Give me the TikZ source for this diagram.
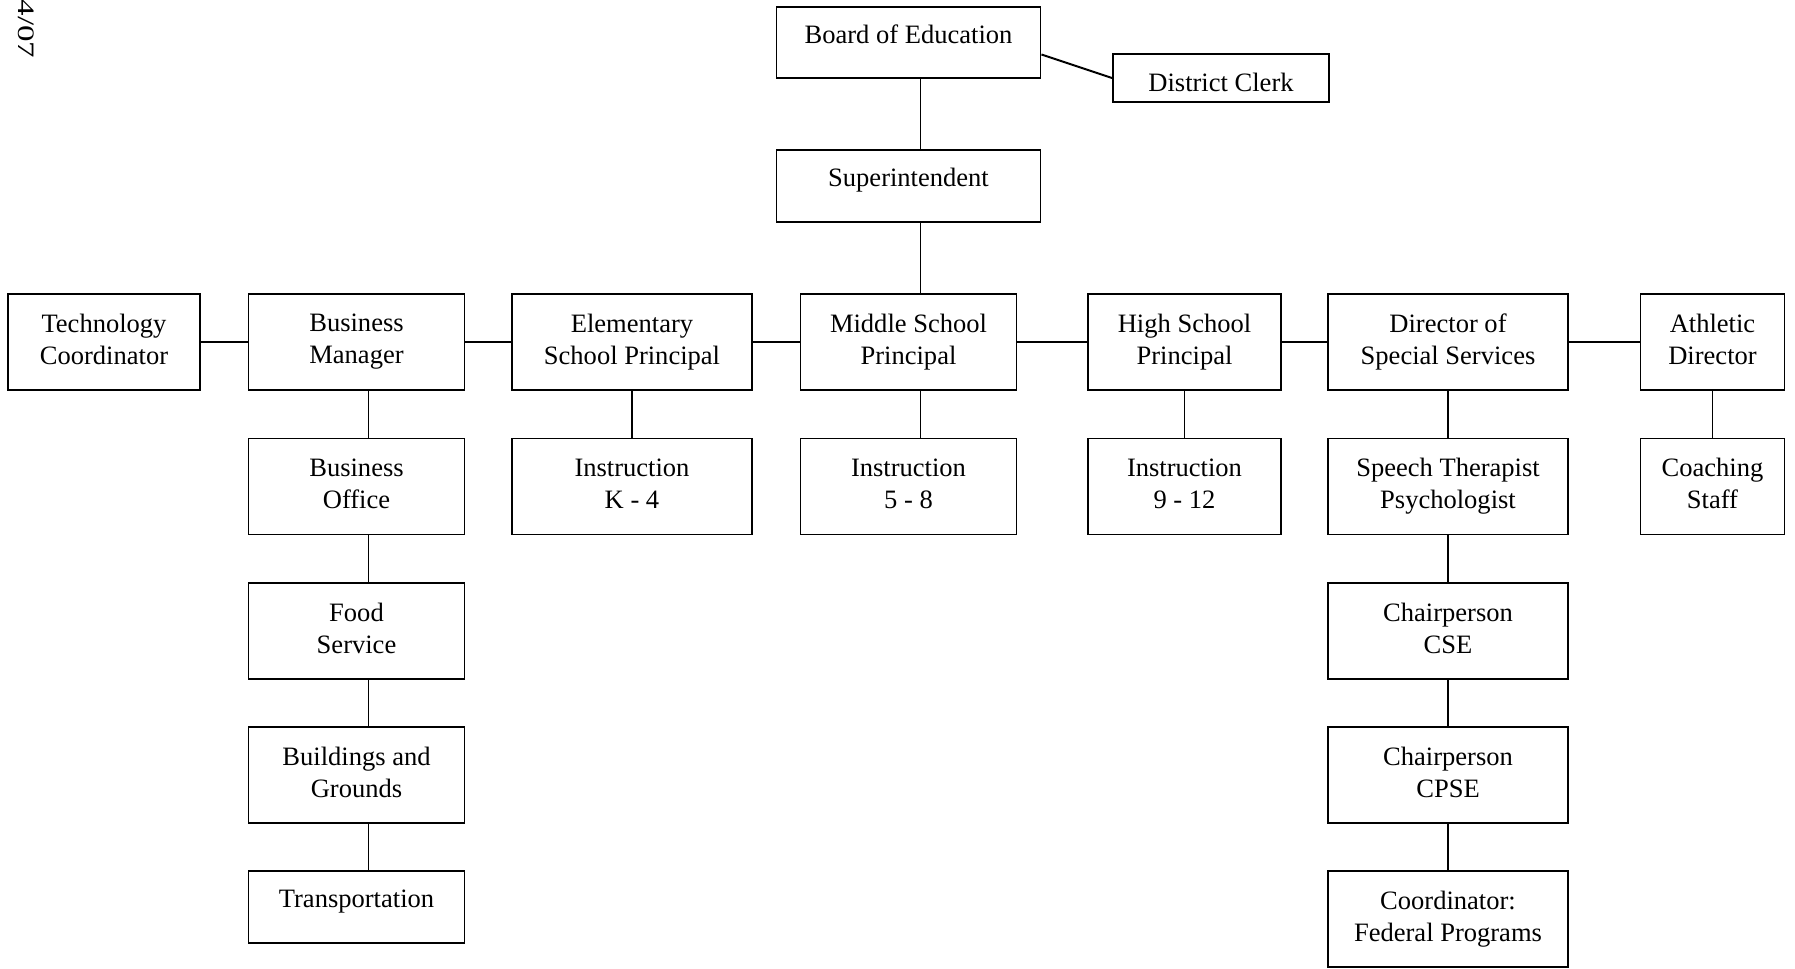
\documentclass[tikz,border=0pt]{standalone}
\usepackage{fontspec}
\setmainfont{Liberation Serif}

\begin{document}
\begin{tikzpicture}[
    box/.style={draw, line width=1.1pt, inner sep=0pt, align=center, minimum height=1.92cm,
      execute at end node=\vphantom{g}},
    upper/.style={text height=0.371cm, text depth=0.35cm},
    lower/.style={text height=0.636cm, text depth=0.106cm},
    link/.style={line width=1.1pt},
    font=\fontsize{15.1}{18.2}\selectfont]
    \useasboundingbox (0, 0) rectangle (35.9, -19.36);
    \node[rotate=-90, xscale=1.4, font=\fontsize{13.4}{16}\selectfont] (date) at (0.52, -0.58) {4/07};

    \node[box, upper, minimum width=5.28cm, minimum height=1.42cm] (board) at (18.17, -0.85) {Board of Education};
    \node[box, lower, minimum width=4.32cm, minimum height=0.96cm] (clerk) at (24.42, -1.56) {District Clerk};
    \node[box, upper, minimum width=5.28cm, minimum height=1.44cm] (super) at (18.17, -3.72) {Superintendent};

    \node[box, minimum width=3.84cm] (tech) at (2.08, -6.84) {Technology\\Coordinator};
    \node[box, minimum width=4.32cm] (busmgr) at (7.13, -6.84) {Business\\Manager};
    \node[box, minimum width=4.80cm] (elem) at (12.64, -6.84) {Elementary\\School Principal};
    \node[box, minimum width=4.32cm] (middle) at (18.17, -6.84) {Middle School\\Principal};
    \node[box, minimum width=3.87cm] (high) at (23.69, -6.84) {High School\\Principal};
    \node[box, minimum width=4.80cm] (director) at (28.96, -6.84) {Director of\\Special Services};
    \node[box, minimum width=2.88cm] (athletic) at (34.25, -6.84) {Athletic\\Director};

    \node[box, minimum width=4.32cm] (busoffice) at (7.13, -9.73) {Business\\Office};
    \node[box, minimum width=4.80cm] (instrk) at (12.64, -9.73) {Instruction\\K - 4};
    \node[box, minimum width=4.32cm] (instrmid) at (18.17, -9.73) {Instruction\\5 - 8};
    \node[box, minimum width=3.87cm] (instrhigh) at (23.69, -9.73) {Instruction\\9 - 12};
    \node[box, minimum width=4.80cm] (speech) at (28.96, -9.73) {Speech Therapist\\Psychologist};
    \node[box, minimum width=2.88cm] (coaching) at (34.25, -9.73) {Coaching\\Staff};

    \node[box, minimum width=4.32cm] (food) at (7.13, -12.62) {Food\\Service};
    \node[box, minimum width=4.80cm] (cse) at (28.96, -12.62) {Chairperson\\CSE};

    \node[box, minimum width=4.32cm] (grounds) at (7.13, -15.50) {Buildings and\\Grounds};
    \node[box, minimum width=4.80cm] (cpse) at (28.96, -15.50) {Chairperson\\CPSE};

    \node[box, upper, minimum width=4.32cm, minimum height=1.44cm] (transport) at (7.13, -18.14) {Transportation};
    \node[box, minimum width=4.80cm] (federal) at (28.96, -18.38) {Coordinator:\\Federal Programs};

    \draw[link] ([yshift=-0.24cm]board.east) -- (clerk.west);
    \draw[link] ([xshift=0.24cm]board.south) -- ([xshift=0.24cm]super.north);
    \draw[link] ([xshift=0.24cm]super.south) -- ([xshift=0.24cm]middle.north);

    \draw[link] (tech.east) -- (busmgr.west);
    \draw[link] (busmgr.east) -- (elem.west);
    \draw[link] (elem.east) -- (middle.west);
    \draw[link] (middle.east) -- (high.west);
    \draw[link] (high.east) -- (director.west);
    \draw[link] (director.east) -- (athletic.west);

    \draw[link] ([xshift=0.24cm]busmgr.south) -- ([xshift=0.24cm]busoffice.north);
    \draw[link] ([xshift=0.24cm]busoffice.south) -- ([xshift=0.24cm]food.north);
    \draw[link] ([xshift=0.24cm]food.south) -- ([xshift=0.24cm]grounds.north);
    \draw[link] ([xshift=0.24cm]grounds.south) -- ([xshift=0.24cm]transport.north);
    \draw[link] (elem.south) -- (instrk.north);
    \draw[link] ([xshift=0.24cm]middle.south) -- ([xshift=0.24cm]instrmid.north);
    \draw[link] (high.south) -- (instrhigh.north);
    \draw[link] (director.south) -- (speech.north);
    \draw[link] (speech.south) -- (cse.north);
    \draw[link] (cse.south) -- (cpse.north);
    \draw[link] (cpse.south) -- (federal.north);
    \draw[link] (athletic.south) -- (coaching.north);
\end{tikzpicture}
\end{document}
